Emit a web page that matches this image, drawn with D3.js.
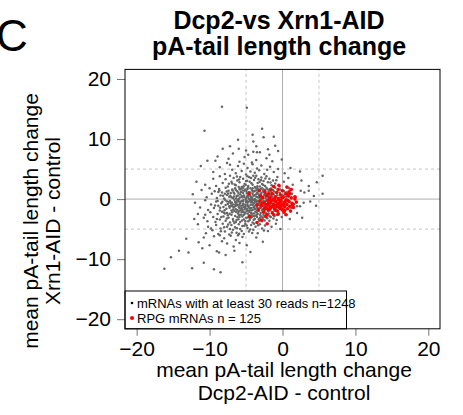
<!DOCTYPE html>
<html>
<head>
<meta charset="utf-8">
<script src="https://cdn.jsdelivr.net/npm/d3@7"></script>
<style>
  body { margin: 0; background: #fff; }
  svg { display: block; font-family: "Liberation Sans", Arial, sans-serif; }
</style>
</head>
<body>
<div id="chart"></div>
<script>
// values: [Dcp2-AID - control, Xrn1-AID - control]
const mrnas = [
  [-10.3,6.4],[-8.9,7.1],[-7.4,6.7],[-6.8,7.6],[-5.2,7.0],[-5.9,6.2],[-4.7,7.4],[-3.6,6.5],[-3.1,7.8],[-2.2,6.8],[-1.4,6.3],[-0.1,6.6],[-4.2,6.1],
  [-9.5,4.5],[-8.6,5.3],[-7.9,4.2],[-7.2,5.7],[-6.9,4.9],[-6.4,4.3],[-6.1,5.5],[-5.6,4.7],[-5.3,5.9],[-5.0,4.1],[-4.8,5.2],[-4.4,4.6],[-4.1,5.8],[-3.8,4.4],[-3.5,5.1],[-3.2,4.8],[-2.9,5.6],[-2.5,4.2],[-2.1,4.9],[-1.7,5.4],[-1.2,4.5],[-0.6,5.0],[0.3,4.3],[1.1,5.2],[2.4,4.6],[5.5,3.9],[-7.6,6.0],
  [-11.8,2.9],[-10.6,2.4],[-9.5,3.4],[-9.1,2.2],[-8.6,3.8],[-8.2,2.7],[-7.8,3.3],[-7.5,2.1],[-7.2,3.9],[-6.9,2.6],[-6.7,3.5],[-6.4,2.3],[-6.2,3.1],[-5.9,2.8],[-5.8,3.7],[-5.6,2.0],[-5.4,3.4],[-5.2,2.5],[-5.0,3.0],[-4.8,3.8],[-4.7,2.2],[-4.5,2.9],[-4.3,3.5],[-4.1,2.4],[-3.9,3.2],[-3.8,2.0],[-3.6,3.9],[-3.4,2.7],[-3.3,3.3],[-3.1,2.1],[-2.9,3.6],[-2.8,2.5],[-2.6,3.0],[-2.4,2.2],[-2.2,3.8],[-2.0,2.8],[-1.8,3.4],[-1.5,2.3],[-1.3,3.1],[-1.0,2.6],[-0.7,3.7],[-0.4,2.1],[0.2,2.9],[0.8,3.5],[1.4,2.4],[2.6,3.1],[4.7,2.8],[3.6,2.2],[-6.0,2.0],[-7.0,2.9],[-4.0,3.9],
  [-6.55,2.45],[-5.95,3.25],[-5.35,2.15],[-4.85,3.05],[-4.25,2.65],[-3.75,3.55],[-3.15,2.85],[-2.65,2.35],[-2.35,3.45],[-1.65,2.75],[-6.25,3.75],[-5.05,2.35],[-4.55,3.65],[-3.45,2.15],[-2.95,3.15],[-7.35,2.55],[-1.25,2.15],[-0.85,3.15],
  [-12.3,0.8],[-11.1,1.5],[-10.4,0.3],[-10.0,1.8],[-9.7,0.9],[-9.3,1.3],[-9.0,0.2],[-8.7,1.7],[-8.5,0.6],[-8.3,1.1],[-8.0,0.1],[-7.8,1.9],[-7.6,0.7],[-7.4,1.4],[-7.3,0.4],[-7.1,1.0],[-6.9,1.6],[-6.8,0.2],[-6.6,0.9],[-6.5,1.8],[-6.3,0.5],[-6.2,1.3],[-6.0,0.0],[-5.9,1.7],[-5.8,0.8],[-5.7,1.2],[-5.5,0.3],[-5.4,1.9],[-5.3,0.6],[-5.2,1.4],[-5.0,0.1],[-4.9,1.0],[-4.8,1.7],[-4.7,0.4],[-4.6,1.2],[-4.5,0.7],[-4.4,1.8],[-4.3,0.2],[-4.2,1.5],[-4.1,0.9],[-4.0,0.5],[-3.9,1.3],[-3.8,0.0],[-3.7,1.9],[-3.6,0.8],[-3.5,1.1],[-3.4,0.3],[-3.3,1.6],[-3.2,0.6],[-3.1,1.4],[-3.0,0.1],[-2.9,1.0],[-2.8,1.8],[-2.7,0.4],[-2.6,1.2],[-2.5,0.7],[-2.4,1.5],[-2.3,0.2],[-2.2,1.9],[-2.1,0.9],[-2.0,0.5],[-1.9,1.3],[-1.8,0.1],[-1.7,1.7],[-1.6,0.6],[-1.5,1.1],[-1.4,0.3],[-1.3,1.5],[-1.2,0.8],[-1.0,1.9],[-0.9,0.4],[-0.7,1.2],[-0.5,0.2],[-0.3,1.6],[-0.1,0.7],[0.2,1.3],[0.5,0.4],[0.9,1.8],[1.3,0.9],[1.8,0.3],[2.5,1.4],[3.0,1.1],[3.6,1.4],[4.3,0.5],[5.5,0.9],[-6.4,1.5],[-5.6,0.5],[-4.9,0.3],[-4.4,1.1],[-3.6,0.4],[-3.0,1.7],[-2.4,0.9],[-5.1,1.6],[-6.7,1.1],[-7.9,0.9],[-3.8,1.4],[-4.6,0.0],[-5.4,1.0],[-2.8,0.3],[-1.9,0.7],[-6.1,0.6],[-7.0,0.3],[-8.8,1.2],[-4.1,1.8],[-3.3,0.9],[-5.8,1.6],[-4.8,0.6],[-2.6,1.6],
  [-7.65,1.25],[-7.15,0.55],[-6.85,1.45],[-6.35,0.15],[-6.05,1.05],[-5.65,1.75],[-5.25,0.35],[-4.95,1.35],[-4.65,0.85],[-4.35,0.45],[-4.05,1.25],[-3.85,0.65],[-3.55,1.55],[-3.25,0.25],[-2.95,0.75],[-2.65,1.35],[-2.35,0.55],[-2.05,1.65],[-1.75,0.95],[-1.45,0.45],[-1.15,1.25],[-0.75,0.65],[-0.35,1.05],[0.15,0.55],[-5.85,0.25],[-5.45,1.45],[-4.75,1.95],[-4.15,0.15],[-3.45,1.85],[-3.05,0.45],[-2.45,1.15],[-1.95,0.25],[-6.65,0.45],[-7.45,0.95],[-8.15,0.55],[-8.65,1.45],[-1.55,1.75],[0.55,1.15],
  [-12.0,-0.6],[-11.3,-1.4],[-10.6,-0.2],[-10.2,-1.8],[-9.8,-0.9],[-9.4,-1.5],[-9.1,-0.4],[-8.8,-1.1],[-8.6,-1.9],[-8.4,-0.7],[-8.1,-1.3],[-7.9,-0.1],[-7.7,-1.6],[-7.5,-0.8],[-7.3,-1.2],[-7.2,-0.3],[-7.0,-1.9],[-6.8,-0.9],[-6.7,-1.4],[-6.5,-0.5],[-6.4,-1.7],[-6.2,-1.0],[-6.1,-0.2],[-5.9,-1.5],[-5.8,-0.7],[-5.7,-1.1],[-5.5,-1.8],[-5.4,-0.4],[-5.3,-1.3],[-5.1,-0.9],[-5.0,-0.1],[-4.9,-1.6],[-4.8,-0.6],[-4.7,-1.2],[-4.6,-1.9],[-4.5,-0.3],[-4.4,-1.0],[-4.3,-1.5],[-4.2,-0.5],[-4.1,-1.8],[-4.0,-0.8],[-3.9,-1.3],[-3.8,-0.2],[-3.7,-1.6],[-3.6,-0.9],[-3.5,-1.1],[-3.4,-0.4],[-3.3,-1.9],[-3.2,-0.7],[-3.1,-1.4],[-3.0,-0.1],[-2.9,-1.2],[-2.8,-0.6],[-2.7,-1.7],[-2.6,-0.3],[-2.5,-1.0],[-2.4,-1.5],[-2.3,-0.8],[-2.2,-0.2],[-2.1,-1.3],[-2.0,-1.8],[-1.9,-0.5],[-1.8,-1.1],[-1.7,-0.1],[-1.6,-1.6],[-1.5,-0.7],[-1.4,-1.3],[-1.2,-0.4],[-1.1,-1.9],[-1.0,-0.9],[-0.8,-1.4],[-0.6,-0.2],[-0.4,-1.1],[-0.2,-0.6],[0.1,-1.7],[0.3,-0.3],[0.6,-1.0],[0.9,-0.5],[1.2,-1.5],[1.6,-0.8],[2.0,-1.2],[2.4,-1.2],[2.9,-0.6],[3.8,-0.4],[4.6,-1.1],[-6.6,-0.1],[-6.0,-1.3],[-5.6,-0.3],[-5.2,-1.7],[-4.8,-1.0],[-4.4,-0.1],[-4.0,-1.4],[-3.6,-0.5],[-3.2,-1.0],[-2.8,-1.9],[-2.4,-0.4],[-2.0,-0.9],[-7.4,-0.5],[-6.9,-1.2],[-5.8,-1.9],[-5.0,-0.5],[-4.6,-1.4],[-3.8,-1.7],[-3.4,-0.8],[-3.0,-1.5],[-2.6,-1.2],[-4.2,-0.2],[-5.4,-0.8],[-6.3,-0.6],[-7.8,-1.0],[-8.9,-0.3],[-6.0,-0.4],[-4.9,-0.3],[-3.9,-0.6],[-2.9,-0.2],[-5.6,-1.5],[-4.3,-1.9],[-3.5,-1.4],[-2.2,-1.6],[-7.1,-0.7],[-6.4,-1.1],[-1.3,-0.8],[-0.9,-1.7],
  [-7.65,-0.35],[-7.25,-1.45],[-6.95,-0.55],[-6.55,-1.25],[-6.25,-0.25],[-5.95,-0.95],[-5.65,-1.65],[-5.35,-0.15],[-5.05,-1.15],[-4.75,-0.45],[-4.45,-1.55],[-4.15,-0.95],[-3.85,-1.15],[-3.55,-0.25],[-3.25,-1.55],[-2.95,-0.85],[-2.65,-0.55],[-2.35,-1.75],[-2.05,-0.35],[-1.75,-1.35],[-1.45,-0.15],[-1.05,-1.25],[-0.65,-0.75],[-0.25,-1.45],[0.25,-0.85],[-6.15,-1.85],[-5.45,-1.05],[-4.85,-1.85],[-4.35,-0.55],[-3.75,-0.45],[-3.15,-0.35],[-2.55,-1.45],[-1.95,-1.95],[-8.25,-0.45],[-8.55,-1.45],[-7.95,-1.85],[-7.05,-1.05],[-6.75,-1.75],[-5.75,-0.45],[-4.05,-0.15],[-3.45,-1.85],[-2.75,-1.05],[-1.65,-0.85],[-5.15,-1.45],[-6.45,-0.85],[-9.25,-1.05],
  [-12.1,-3.3],[-11.6,-2.5],[-10.6,-2.6],[-10.3,-3.7],[-9.9,-2.2],[-9.5,-3.0],[-9.2,-3.8],[-8.9,-2.5],[-8.6,-3.4],[-8.3,-2.1],[-8.1,-2.9],[-7.8,-3.6],[-7.6,-2.3],[-7.4,-3.1],[-7.2,-3.9],[-7.0,-2.6],[-6.8,-3.3],[-6.6,-2.0],[-6.5,-2.8],[-6.3,-3.5],[-6.1,-2.4],[-5.9,-3.0],[-5.8,-3.8],[-5.6,-2.2],[-5.5,-2.9],[-5.3,-3.4],[-5.2,-2.5],[-5.0,-3.1],[-4.9,-2.0],[-4.7,-3.7],[-4.6,-2.7],[-4.4,-3.2],[-4.3,-2.3],[-4.1,-3.9],[-4.0,-2.8],[-3.8,-3.3],[-3.7,-2.1],[-3.5,-3.0],[-3.4,-2.5],[-3.2,-3.6],[-3.0,-2.3],[-2.9,-2.9],[-2.7,-3.4],[-2.5,-2.1],[-2.3,-2.7],[-2.1,-3.2],[-1.9,-2.4],[-1.6,-3.0],[-1.4,-2.2],[-1.1,-2.8],[-0.8,-3.5],[-0.5,-2.4],[-0.1,-3.0],[0.4,-2.6],[1.0,-3.3],[2.0,-2.3],[2.7,-3.1],[-6.9,-2.2],[-6.2,-3.0],[-5.7,-2.6],[-5.1,-3.7],[-4.8,-2.4],[-4.2,-3.0],[-3.6,-2.7],[-3.1,-3.1],[-2.6,-2.6],[-7.5,-2.7],[-8.4,-3.0],[-6.0,-2.1],[-5.4,-2.1],[-4.5,-3.5],[-3.9,-2.4],[-3.3,-2.0],[-2.8,-3.7],[-2.0,-2.0],[-9.0,-3.3],[-7.9,-2.4],[-6.4,-3.8],[-1.8,-3.6],[-10.8,-3.1],
  [-7.25,-2.45],[-6.75,-3.65],[-6.35,-2.15],[-5.95,-2.65],[-5.55,-3.55],[-5.15,-2.25],[-4.75,-3.05],[-4.35,-2.75],[-3.95,-3.45],[-3.55,-2.25],[-3.05,-2.65],[-2.65,-3.05],[-2.25,-2.35],[-1.75,-2.85],[-1.25,-3.25],[-6.05,-3.35],[-5.35,-2.65],[-4.55,-2.15],[-3.85,-2.85],[-3.25,-3.35],[-2.45,-3.55],[-8.05,-2.25],[-7.65,-3.25],[-4.15,-2.45],[-0.75,-2.65],
  [-11.6,-4.2],[-10.5,-5.7],[-10.2,-4.6],[-9.6,-5.2],[-9.1,-4.3],[-8.8,-5.8],[-8.5,-4.9],[-8.2,-4.1],[-7.9,-5.4],[-7.6,-4.6],[-7.3,-5.9],[-7.0,-4.3],[-6.8,-5.1],[-6.5,-4.7],[-6.3,-5.6],[-6.0,-4.2],[-5.8,-5.0],[-5.5,-4.5],[-5.3,-5.8],[-5.1,-4.1],[-4.8,-4.8],[-4.6,-5.4],[-4.3,-4.3],[-4.0,-5.1],[-3.7,-4.6],[-3.4,-5.7],[-3.1,-4.2],[-2.8,-4.9],[-2.4,-4.4],[-2.0,-5.3],[-1.5,-4.6],[-0.9,-4.1],[-0.3,-5.0],[-8.0,-4.7],[-6.6,-4.0],[-5.6,-5.3],[-4.9,-4.4],[-3.9,-4.1],[-7.2,-5.0],[-9.8,-4.9],
  [-7.45,-4.25],[-6.25,-4.85],[-5.25,-4.45],[-4.45,-5.05],[-3.35,-4.35],[-2.55,-5.25],[-6.95,-5.55],[-8.45,-5.35],[-5.95,-5.75],[-4.15,-5.65],
  [-13.2,-6.6],[-12.9,-8.9],[-11.5,-7.2],[-10.8,-6.4],[-10.0,-7.7],[-9.4,-6.2],[-9.0,-8.7],[-8.7,-8.9],[-8.3,-7.0],[-8.0,-6.5],[-7.6,-7.4],[-7.1,-6.1],[-6.7,-7.9],[-6.4,-6.8],[-5.9,-7.3],[-5.5,-6.3],[-4.9,-7.7],[-4.4,-8.8],[-3.6,-6.4],[-2.7,-7.1],[-6.1,-6.0],[-8.6,-6.0],
  // scattered ones
  [-8.3,15.4],[-4.9,15.2],[-10.7,11.4],[-2.8,11.7],[-1.2,10.4],[-4.1,10.7],[-4.0,9.6],[-6.1,9.9],[-7.2,8.8],[-8.2,8.4],[-3.6,8.8],[-4.0,7.9],[-3.5,7.8],[-2.6,10.3],[-6.0,8.4],[-5.0,8.1],[-2.0,8.3],[-1.0,8.9],[-0.6,8.0],[-1.8,7.4],[-9.2,6.4],[-11.2,5.5],
  [-16.2,-11.6],[-15.3,-9.7],[-14.2,-8.6],[-12.4,-11.5],[-10.8,-10.6],[-9.4,-11.7],[-8.5,-12.2],[-5.5,-10.5],[-11.0,-8.2],[-7.8,-9.3],[-6.6,-8.6]
];

const rpg = [
  [-2.7,0.2],[-2.5,-0.6],[-2.3,-1.4],[-2.2,0.6],[-2.0,-0.2],[-1.9,-1.0],[-1.8,-1.8],[-1.7,0.3],[-1.6,-0.5],[-1.5,-1.3],[-1.4,0.9],[-1.3,-0.1],[-1.2,-0.9],[-1.1,-1.6],[-1.0,0.4],[-0.9,-0.4],[-0.8,-1.2],[-0.7,-2.0],[-0.6,0.1],[-0.5,-0.7],[-0.4,-1.5],[-0.3,0.7],[-0.2,-0.3],[-0.1,-1.1],[0.0,-1.8],[0.1,0.3],[0.2,-0.6],[0.3,-1.3],[0.4,0.9],[0.5,-0.1],[0.6,-0.9],[0.7,-1.6],[0.8,0.5],[0.9,-0.4],[1.0,-1.2],[1.2,0.2],[1.3,-0.7],[1.5,-1.4],[1.7,0.0],
  [-2.9,-1.1],[-2.6,-2.2],[-2.1,-2.6],[-1.4,-2.3],[-0.6,-2.5],[0.2,-2.2],[1.1,-2.0],[-3.1,-0.3],[-3.3,-1.8],[-2.4,1.2],[-1.6,1.5],[-0.8,1.1],[0.0,1.4],[0.9,1.2],[-1.9,-0.7],[-1.3,-1.2],[-0.7,-0.9],[-0.2,-1.6],[0.4,-0.4],[-1.0,-0.3],[-1.7,-1.5],[-2.2,-0.9],[-0.4,-0.2],[0.1,-0.9],[-1.5,-0.2],[-0.9,-1.9],[-0.3,-1.0],[0.7,-0.2],[-2.8,-0.7],[-2.0,-1.7],[-1.1,0.0],[-0.5,-1.3],[0.3,-1.9],[-1.8,0.0],[-2.5,-1.7],[-1.2,-2.6],[-0.1,0.2],[0.6,0.8],[-0.6,1.6],[-1.9,0.9],[-3.5,-1.0],[-3.0,0.5],[1.4,-0.9],[1.9,-0.5],[0.5,-2.6],[-2.3,-2.9],
  [-4.6,0.9],[-4.5,-2.9],[-3.5,-3.9],[-2.9,-3.5],[-2.1,-4.1],[-0.5,2.3],[1.2,1.6],[1.4,-1.0],[1.7,0.4],[-3.2,1.4],[0.6,2.0],[-1.2,2.1],[1.0,0.9]
];

const ticks = [-20, -10, 0, 10, 20];
const cutoffs = [-5, 5];
const titleLines = ["Dcp2-vs Xrn1-AID", "pA-tail length change"];
const xLabelLines = ["mean pA-tail length change", "Dcp2-AID - control"];
const yLabelLines = ["mean pA-tail length change", "Xrn1-AID - control"];
const legendItems = [
  { label: "mRNAs with at least 30 reads n=1248", color: "#000", r: 1.3 },
  { label: "RPG mRNAs n = 125", color: "#ff0000", r: 2 }
];

const width = 463, height = 415;

const svg = d3.select("#chart")
  .append("svg")
  .attr("width", width)
  .attr("height", height);

// R-style 4% padding around [-20, 20]
const x = d3.scaleLinear().domain([-21.6, 21.6]).range([125, 440]);
const y = d3.scaleLinear().domain([-21.6, 21.6]).range([328.8, 69.4]);

const fmt = (d) => (d < 0 ? "\u2212" + Math.abs(d) : String(d));

// panel letter
svg.append("text")
  .attr("x", -4)
  .attr("y", 51)
  .attr("font-size", 44)
  .text("C");

// title
svg.append("g")
  .selectAll("text")
  .data(titleLines)
  .join("text")
  .attr("x", 279)
  .attr("y", (d, i) => 29 + i * 26)
  .attr("text-anchor", "middle")
  .attr("font-weight", "bold")
  .attr("font-size", 25)
  .text((d) => d);

// reference lines
const guides = svg.append("g");
guides.selectAll(".vcut")
  .data(cutoffs)
  .join("line")
  .attr("x1", (d) => x(d)).attr("x2", (d) => x(d))
  .attr("y1", y.range()[0]).attr("y2", y.range()[1])
  .attr("stroke", "#c4c4c4")
  .attr("stroke-dasharray", "3,3");
guides.selectAll(".hcut")
  .data(cutoffs)
  .join("line")
  .attr("y1", (d) => y(d)).attr("y2", (d) => y(d))
  .attr("x1", x.range()[0]).attr("x2", x.range()[1])
  .attr("stroke", "#c4c4c4")
  .attr("stroke-dasharray", "3,3");
guides.append("line")
  .attr("x1", x(0)).attr("x2", x(0))
  .attr("y1", y.range()[0]).attr("y2", y.range()[1])
  .attr("stroke", "#b0b0b0");
guides.append("line")
  .attr("y1", y(0)).attr("y2", y(0))
  .attr("x1", x.range()[0]).attr("x2", x.range()[1])
  .attr("stroke", "#b0b0b0");

// points
svg.append("g")
  .selectAll("circle")
  .data(mrnas)
  .join("circle")
  .attr("cx", (d) => x(d[0]))
  .attr("cy", (d) => y(d[1]))
  .attr("r", 1.25)
  .attr("fill", "#666");

svg.append("g")
  .selectAll("circle")
  .data(rpg)
  .join("circle")
  .attr("cx", (d) => x(d[0]))
  .attr("cy", (d) => y(d[1]))
  .attr("r", 1.8)
  .attr("fill", "#ff0000");

// axes
const xAxis = svg.append("g")
  .attr("transform", `translate(0,${y.range()[0]})`)
  .call(d3.axisBottom(x).tickValues(ticks).tickSize(7).tickPadding(5).tickFormat(fmt));
const yAxis = svg.append("g")
  .attr("transform", `translate(${x.range()[0]},0)`)
  .call(d3.axisLeft(y).tickValues(ticks).tickSize(8).tickPadding(6).tickFormat(fmt));
[xAxis, yAxis].forEach((g) => {
  g.select(".domain").remove();
  g.selectAll(".tick line").attr("stroke", "#777");
  g.selectAll(".tick text")
    .attr("fill", "#000")
    .attr("font-size", 21)
    .attr("font-family", "Liberation Sans, Arial, sans-serif");
});

// legend (sits over the points, bottom-left corner)
const legend = svg.append("g");
legend.append("rect")
  .attr("x", x.range()[0]).attr("y", 291)
  .attr("width", 221.5).attr("height", y.range()[0] - 291)
  .attr("fill", "#fff")
  .attr("stroke", "#000");
const item = legend.selectAll(".item")
  .data(legendItems)
  .join("g")
  .attr("transform", (d, i) => `translate(132,${303 + i * 15})`);
item.append("circle")
  .attr("r", (d) => d.r)
  .attr("fill", (d) => d.color);
item.append("text")
  .attr("x", 5)
  .attr("dy", "0.36em")
  .attr("font-size", 13)
  .text((d) => d.label);

// plot box
svg.append("rect")
  .attr("x", x.range()[0]).attr("y", y.range()[1])
  .attr("width", x.range()[1] - x.range()[0])
  .attr("height", y.range()[0] - y.range()[1])
  .attr("fill", "none")
  .attr("stroke", "#000");

// axis titles
svg.append("g")
  .selectAll("text")
  .data(xLabelLines)
  .join("text")
  .attr("x", 284)
  .attr("y", (d, i) => 377 + i * 23)
  .attr("text-anchor", "middle")
  .attr("font-size", 21)
  .text((d) => d);

svg.append("g")
  .attr("transform", "translate(0,221) rotate(-90)")
  .selectAll("text")
  .data(yLabelLines)
  .join("text")
  .attr("x", 0)
  .attr("y", (d, i) => 38 + i * 22)
  .attr("text-anchor", "middle")
  .attr("font-size", 21)
  .text((d) => d);
</script>
</body>
</html>
